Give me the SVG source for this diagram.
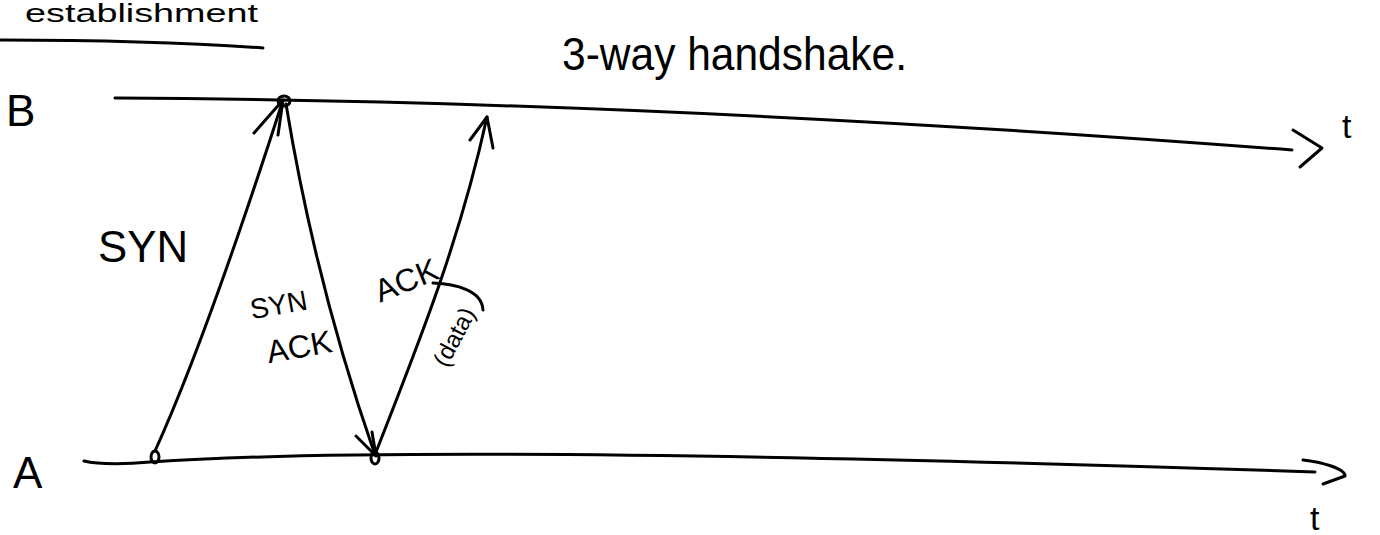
<svg xmlns="http://www.w3.org/2000/svg" width="1380" height="535" viewBox="0 0 1380 535">
<style>
.s{fill:none;stroke:#000;stroke-width:3;stroke-linecap:round;stroke-linejoin:round}
.t{font-family:"Liberation Sans",Arial,sans-serif;fill:#000}
</style>
<rect width="1380" height="535" fill="#fff"/>
<g id="header">
<text class="t" x="25" y="22" font-size="25" textLength="233" lengthAdjust="spacingAndGlyphs">establishment</text>
<path class="s" d="M0 40 C 90 40, 180 42, 263 48"/>
<text class="t" x="562" y="70" font-size="46" textLength="345" lengthAdjust="spacingAndGlyphs">3-way handshake.</text>
</g>
<g id="nodeB">
<text class="t" x="6" y="126" font-size="44">B</text>
<path class="s" d="M115 98 C 500 100, 900 120, 1292 150"/>
<path class="s" d="M1293 130 L1322 148 L1300 167"/>
<text class="t" x="1342" y="138" font-size="34">t</text>
</g>
<g id="nodeA">
<text class="t" x="13" y="488" font-size="44">A</text>
<path class="s" d="M84 461 C 100 465, 130 464, 150 462 C 300 452, 600 448, 1315 472"/>
<path class="s" d="M1303 460 C 1320 462, 1345 468, 1345 476 L1323 484"/>
<text class="t" x="1310" y="530" font-size="34">t</text>
</g>
<g id="connectors">
<g id="syn">
<ellipse cx="155" cy="457" rx="4" ry="6" class="s"/>
<path class="s" d="M155 451 C 185 385, 225 280, 283 100"/>
<path class="s" d="M254 133 L283 100 L278 135"/>
<text class="t" x="98" y="262" font-size="44" textLength="90" lengthAdjust="spacingAndGlyphs">SYN</text>
</g>
<g id="synack">
<ellipse cx="284" cy="101" rx="6" ry="5" class="s"/>
<path class="s" d="M286 104 C 305 220, 335 340, 375 455"/>
<path class="s" d="M356 436 L376 456 L372 432"/>
<text class="t" x="249" y="314" font-size="28" transform="rotate(-10 280 300)">SYN</text>
<text class="t" x="266" y="358" font-size="32" transform="rotate(-10 297 345)">ACK</text>
</g>
<g id="ack">
<ellipse cx="375" cy="458" rx="4" ry="6" class="s"/>
<path class="s" d="M376 452 C 420 340, 460 240, 487 117"/>
<path class="s" d="M470 140 L487 117 L493 148"/>
<text class="t" x="370" y="293" font-size="32" transform="rotate(-22 400 272)">ACK</text>
<path class="s" d="M433 283 C 455 284, 482 290, 483 310"/>
<text class="t" x="420" y="352" font-size="24" transform="rotate(-62 447 338)">(data)</text>
</g>
</g>
</svg>
